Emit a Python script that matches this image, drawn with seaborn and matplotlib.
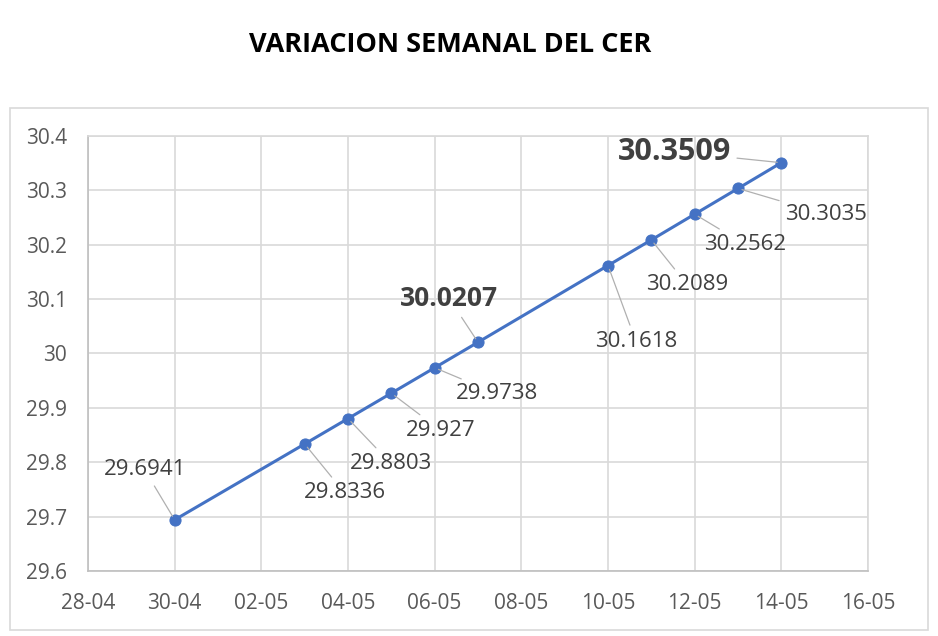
import matplotlib
matplotlib.use("Agg")
import matplotlib.pyplot as plt
import matplotlib.dates as mdates
import matplotlib.patches as mpatches
import pandas as pd
import seaborn as sns

# data
fechas = ["2021-04-30", "2021-05-03", "2021-05-04", "2021-05-05", "2021-05-06",
          "2021-05-07", "2021-05-10", "2021-05-11", "2021-05-12", "2021-05-13",
          "2021-05-14"]
cer = [29.6941, 29.8336, 29.8803, 29.927, 29.9738,
       30.0207, 30.1618, 30.2089, 30.2562, 30.3035, 30.3509]
etiquetas = ["29.6941", "29.8336", "29.8803", "29.927", "29.9738",
             "30.0207", "30.1618", "30.2089", "30.2562", "30.3035", "30.3509"]
destacados = [5, 10]

# label offsets in pixels (dx, dy)
offsets = [(-30, 50), (40, -49), (43, -45), (49, -37), (62, -26),
           (-29, 44), (28, -76), (36, -45), (50, -30), (88, -26), (-107, 11)]

df = pd.DataFrame({"fecha": pd.to_datetime(fechas), "cer": cer})

sns.set_style("white")
plt.rcParams['font.family'] = ['Open Sans', 'DejaVu Sans']

fig = plt.figure(figsize=(9.38, 6.36), dpi=100)
ax = fig.add_axes([88 / 938, 1 - 571 / 636, 780 / 938, 435 / 636])

azul = "#4472C4"
sns.lineplot(data=df, x="fecha", y="cer", ax=ax, color=azul, lw=2.2,
             marker="o", markersize=8, markeredgecolor=azul)

ax.set_xlim(pd.Timestamp("2021-04-28"), pd.Timestamp("2021-05-16"))
ax.set_ylim(29.6, 30.4)
ax.set_xticks(pd.date_range("2021-04-28", "2021-05-16", freq="2D"))
ax.xaxis.set_major_formatter(mdates.DateFormatter("%d-%m"))
ax.set_yticks([29.6, 29.7, 29.8, 29.9, 30.0, 30.1, 30.2, 30.3, 30.4])
ax.set_yticklabels(["29.6", "29.7", "29.8", "29.9", "30", "30.1", "30.2", "30.3", "30.4"])
ax.set_xlabel("")
ax.set_ylabel("")
ax.grid(True, color="#d9d9d9", lw=1.2)
ax.tick_params(axis="y", length=0, labelsize=15, labelcolor="#595959", pad=15)
ax.tick_params(axis="x", length=0, labelsize=15, labelcolor="#595959", pad=16)
for s in ["left", "bottom"]:
    ax.spines[s].set_color("#bfbfbf")
    ax.spines[s].set_linewidth(1.2)
for s in ["top", "right"]:
    ax.spines[s].set_color("#d9d9d9")
    ax.spines[s].set_linewidth(1.2)

for i, (f, v, t) in enumerate(zip(df["fecha"], cer, etiquetas)):
    bold = i in destacados
    ax.annotate(t, xy=(f, v), xytext=offsets[i], textcoords="offset pixels",
                ha="center", va="center", color="#404040",
                fontsize=(22 if i == 10 else 19) if bold else 16,
                fontweight="bold" if bold else "normal",
                arrowprops=dict(arrowstyle="-", color="#b0b0b0", lw=0.9,
                                shrinkA=2, shrinkB=3))

# chart area border
fig.patches.append(mpatches.Rectangle((10 / 938, 1 - 630 / 636), 918 / 938, 522 / 636,
                                      transform=fig.transFigure, fill=False,
                                      edgecolor="#d9d9d9", lw=1.2))

fig.text(450 / 938, 1 - 45 / 636, "VARIACION SEMANAL DEL CER", ha="center", va="center",
         fontsize=19.5, fontweight="bold", color="black")

fig.savefig("out.png", dpi=100)
